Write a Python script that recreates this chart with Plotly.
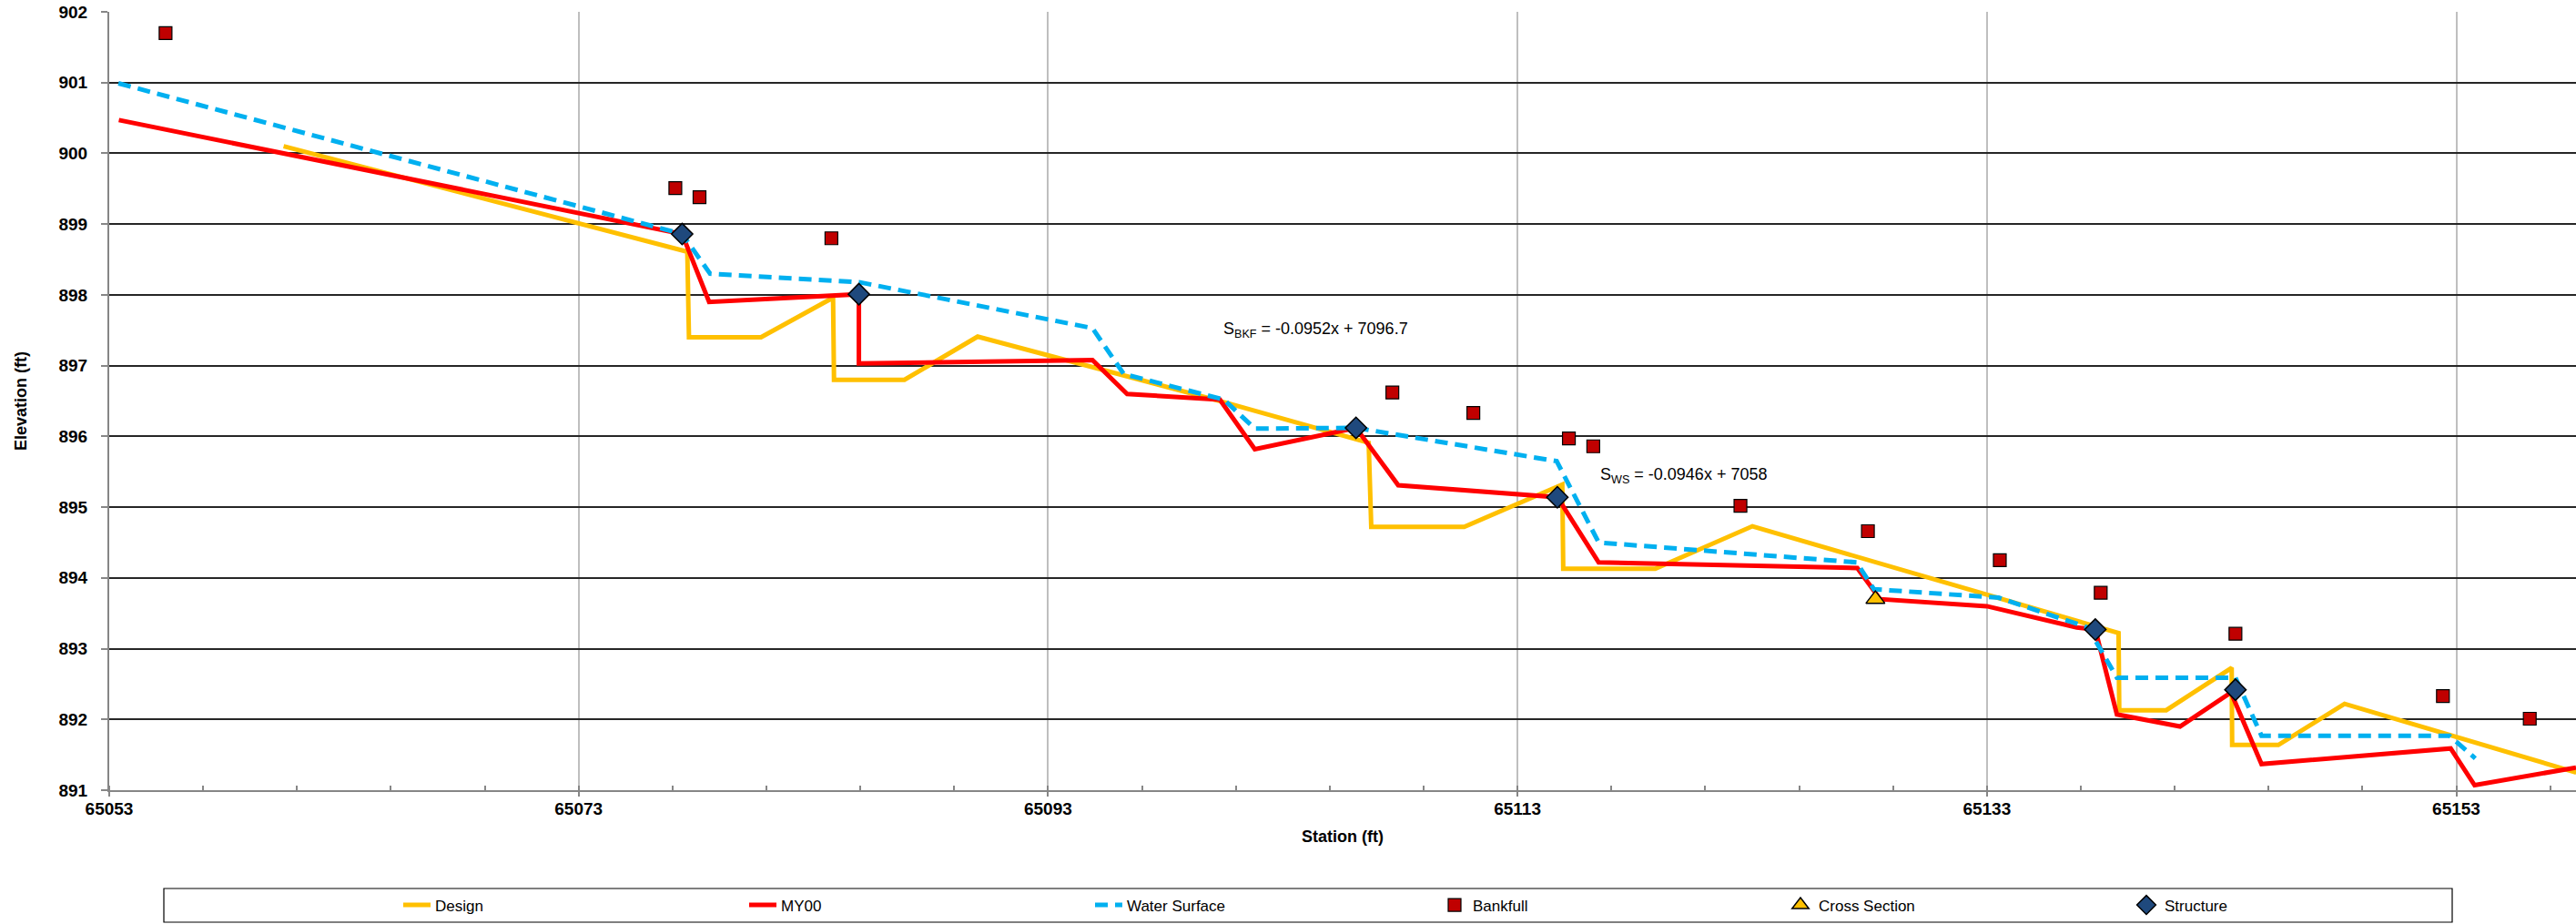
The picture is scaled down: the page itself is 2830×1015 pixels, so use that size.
import plotly.graph_objects as go

# ---- Longitudinal profile data (station in ft, elevation in ft) ----
design_sta = [65060.43, 65077.63, 65077.70, 65080.77, 65083.84, 65083.88, 65086.88, 65090.00,
              65100.65, 65106.66, 65106.77, 65110.73, 65114.91, 65114.95, 65118.87, 65123.01,
              65138.61, 65138.64, 65140.64, 65143.43, 65143.45, 65145.42, 65148.24, 65158.11]
design_elev = [900.10, 898.61, 897.40, 897.40, 897.96, 896.80, 896.80, 897.41,
               896.47, 895.91, 894.72, 894.72, 895.32, 894.13, 894.13, 894.73,
               893.22, 892.13, 892.13, 892.73, 891.64, 891.64, 892.22, 891.25]

my00_sta = [65053.41, 65077.05, 65077.41, 65078.56, 65084.94, 65084.94, 65094.89, 65096.37,
            65100.32, 65101.81, 65106.12, 65107.92, 65114.70, 65116.46, 65127.48, 65128.45,
            65133.00, 65136.83, 65137.62, 65138.54, 65141.23, 65143.40, 65144.70, 65152.76,
            65153.78, 65158.10]
my00_elev = [900.47, 898.89, 898.86, 897.90, 898.01, 897.03, 897.08, 896.60,
             896.52, 895.82, 896.12, 895.31, 895.14, 894.22, 894.14, 893.70,
             893.60, 893.30, 893.27, 892.07, 891.90, 892.38, 891.37, 891.59,
             891.07, 891.32]

ws_sta = [65053.39, 65077.41, 65078.60, 65084.94, 65094.89, 65096.23, 65100.49, 65101.81,
          65106.12, 65114.67, 65116.46, 65127.45, 65128.19, 65133.50, 65137.30, 65138.54,
          65143.59, 65144.70, 65152.70, 65153.81]
ws_elev = [900.99, 898.86, 898.30, 898.18, 897.53, 896.88, 896.52, 896.11,
           896.12, 895.65, 894.50, 894.22, 893.84, 893.72, 893.30, 892.59,
           892.59, 891.77, 891.77, 891.45]

bkf_sta = [65055.40, 65077.12, 65078.15, 65083.77, 65107.67, 65111.12, 65115.19, 65116.23,
           65122.50, 65127.93, 65133.55, 65137.85, 65143.59, 65152.43, 65156.13]
bkf_elev = [901.70, 899.51, 899.38, 898.80, 896.62, 896.33, 895.97, 895.86,
            895.02, 894.66, 894.25, 893.79, 893.21, 892.33, 892.01]

xs_sta = [65128.25]
xs_elev = [893.70]

struct_sta = [65077.41, 65084.94, 65106.12, 65114.70, 65137.62, 65143.59]
struct_elev = [898.86, 898.01, 896.12, 895.14, 893.27, 892.42]

x_tick_vals = [65053, 65073, 65093, 65113, 65133, 65153]
y_tick_vals = list(range(891, 903))

eq_bkf = "S<sub>BKF</sub> = -0.0952x + 7096.7"
eq_ws = "S<sub>WS</sub> = -0.0946x + 7058"

# ---- Figure ----
fig = go.Figure()

fig.add_trace(go.Scatter(x=design_sta, y=design_elev, name="Design", mode="lines",
                         line=dict(color="#FFC000", width=5)))
fig.add_trace(go.Scatter(x=my00_sta, y=my00_elev, name="MY00", mode="lines",
                         line=dict(color="#FF0000", width=5)))
fig.add_trace(go.Scatter(x=ws_sta, y=ws_elev, name="Water Surface", mode="lines",
                         line=dict(color="#00B0F0", width=5, dash="14px,8px")))
fig.add_trace(go.Scatter(x=bkf_sta, y=bkf_elev, name="Bankfull", mode="markers",
                         marker=dict(symbol="square", size=14, color="#C00000",
                                     line=dict(color="#000000", width=1.2))))
fig.add_trace(go.Scatter(x=xs_sta, y=xs_elev, name="Cross Section", mode="markers",
                         marker=dict(symbol="triangle-up", size=18, color="#FFC000",
                                     line=dict(color="#000000", width=1.5))))
fig.add_trace(go.Scatter(x=struct_sta, y=struct_elev, name="Structure", mode="markers",
                         marker=dict(symbol="diamond", size=18, color="#1F497D",
                                     line=dict(color="#000000", width=1.5))))

# slope equations
fig.add_annotation(x=65100.40, y=897.50, xref="x", yref="y", text=eq_bkf, showarrow=False,
                   xanchor="left", yanchor="middle",
                   font=dict(family="Liberation Sans, Arial, sans-serif", size=18, color="#000000"))
fig.add_annotation(x=65116.46, y=895.44, xref="x", yref="y", text=eq_ws, showarrow=False,
                   xanchor="left", yanchor="middle",
                   font=dict(family="Liberation Sans, Arial, sans-serif", size=18, color="#000000"))

W, H = 2830, 1015
ML, MR, MT, MB = 120, 0, 13, 147
PW, PH = W - ML - MR, H - MT - MB

def px_to_paper_x(px):
    return (px - ML) / PW

def px_to_paper_y(py):
    return (H - MB - py) / PH

# legend frame
fig.add_shape(type="rect", xref="paper", yref="paper",
              x0=px_to_paper_x(180), x1=px_to_paper_x(2694),
              y0=px_to_paper_y(1013), y1=px_to_paper_y(976),
              line=dict(color="#000000", width=1.2), fillcolor="rgba(0,0,0,0)")

axis_font = dict(family="Liberation Sans, Arial, sans-serif", size=19, color="#000000", weight="bold")
title_font = dict(family="Liberation Sans, Arial, sans-serif", size=18, color="#000000", weight="bold")

fig.update_layout(
    width=W, height=H,
    margin=dict(l=ML, r=MR, t=MT, b=MB, autoexpand=False),
    paper_bgcolor="#FFFFFF", plot_bgcolor="#FFFFFF",
    showlegend=True,
    legend=dict(orientation="h", x=px_to_paper_x(438), xanchor="left",
                y=px_to_paper_y(994.5), yanchor="middle",
                entrywidth=335, entrywidthmode="pixels",
                font=dict(family="Liberation Sans, Arial, sans-serif", size=17, color="#000000"),
                bgcolor="rgba(0,0,0,0)", borderwidth=0, traceorder="normal"),
    xaxis=dict(range=[65053, 65158.1], tickmode="array", tickvals=x_tick_vals,
               ticktext=[str(v) for v in x_tick_vals],
               showgrid=True, gridcolor="#BFBFBF", gridwidth=1.5,
               showline=True, linecolor="#868686", linewidth=2,
               ticks="outside", ticklen=5, tickwidth=1.5, tickcolor="#868686",
               minor=dict(tickmode="linear", tick0=65053, dtick=4, ticks="inside",
                          ticklen=5, tickwidth=1.5, tickcolor="#868686", showgrid=False),
               tickfont=axis_font, ticklabelstandoff=-3, zeroline=False,
               title=dict(text="Station (ft)", font=title_font, standoff=15),
               automargin=False),
    yaxis=dict(range=[891, 902], tickmode="array", tickvals=y_tick_vals,
               ticktext=[str(v) for v in y_tick_vals],
               showgrid=True, gridcolor="#262626", gridwidth=1.8,
               showline=True, linecolor="#868686", linewidth=2,
               ticks="outside", ticklen=7, tickwidth=1.5, tickcolor="#868686",
               tickfont=axis_font, ticklabelstandoff=11, zeroline=False,
               title=dict(text="Elevation (ft)", font=title_font, standoff=30),
               automargin=False),
)

fig.write_html("out.html", config={"displayModeBar": False})
